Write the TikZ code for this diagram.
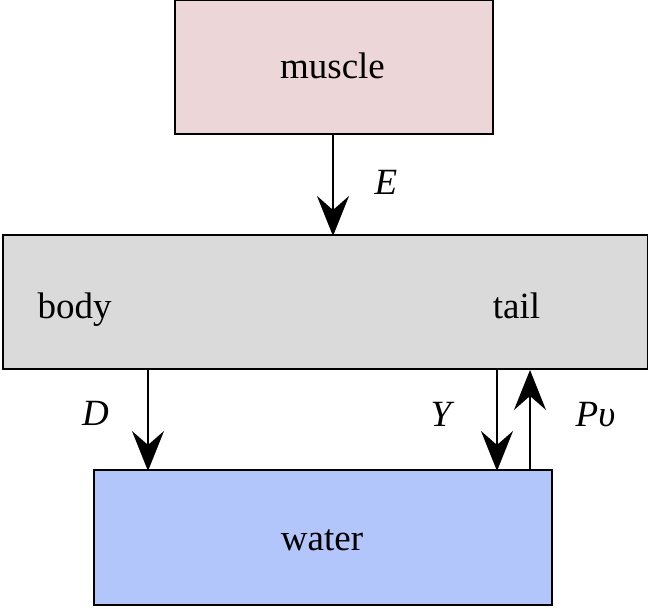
\documentclass[tikz,border=0pt]{standalone}
\usepackage{fontspec}
\setmainfont{Liberation Serif}
\usetikzlibrary{arrows.meta}
\definecolor{musclefill}{RGB}{236,214,215}
\definecolor{bodyfill}{RGB}{218,218,218}
\definecolor{waterfill}{RGB}{179,198,251}
\begin{document}
\begin{tikzpicture}[x=1pt,y=1pt,
  box/.style={draw=black,line width=2.3pt,inner sep=0pt,anchor=south west},
  lbl/.style={font=\fontsize{37}{40}\selectfont,anchor=base,inner sep=0pt},
  flow/.style={line width=1.8pt,-{Stealth[length=40pt,width=32pt,inset=14pt]}}]
\useasboundingbox (0,0) rectangle (648,608);
\node[box,fill=musclefill,minimum width=318pt,minimum height=134pt] (muscle) at (174,473) {};
\node[box,fill=bodyfill,minimum width=645pt,minimum height=134pt] (body) at (1.5,238) {};
\node[box,fill=waterfill,minimum width=458pt,minimum height=135pt] (water) at (93,2) {};
\node[lbl] (tm) at (332.5,529) {muscle};
\node[lbl] (tb) at (74.5,289) {body};
\node[lbl] (tt) at (516.5,289) {tail};
\node[lbl] (tw) at (322,57) {water};
\coordinate (e1) at (333,473);
\coordinate (e2) at (333,372);
\coordinate (d1) at (148,238);
\coordinate (d2) at (148,137);
\coordinate (y1) at (497,238);
\coordinate (y2) at (497,137);
\coordinate (p1) at (530,137);
\coordinate (p2) at (530,238);
\draw[flow] (e1) -- (e2);
\draw[flow] (d1) -- (d2);
\draw[flow] (y1) -- (y2);
\draw[flow] (p1) -- (p2);
\node[lbl] (le) at (386,413) {\textit{E}};
\node[lbl] (ld) at (95.5,182) {\textit{D}};
\node[lbl] (ly) at (442.5,181) {\textit{Y}};
\node[lbl] (lp) at (595.5,181) {\textit{Pυ}};
\end{tikzpicture}
\end{document}
